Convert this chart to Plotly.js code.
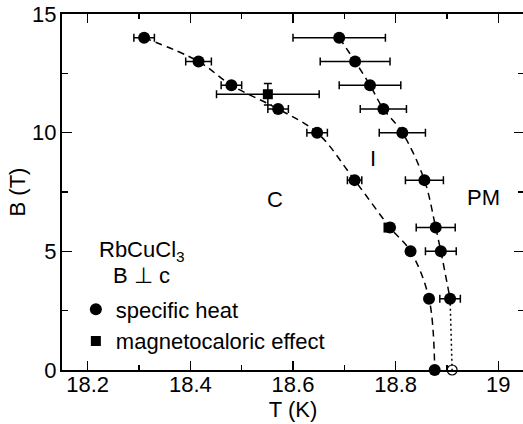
<!DOCTYPE html>
<html><head><meta charset="utf-8">
<script src="https://cdn.plot.ly/plotly-3.0.1.min.js"></script>
<style>html,body{margin:0;padding:0;overflow:hidden;background:#fff}</style>
</head><body><div id="chart" style="width:530px;height:424px"></div>
<script>
// C - I transition (specific heat)
const leftB   = [14, 13, 12, 11, 10, 8, 6, 5, 3, 0];
const leftT   = [18.31, 18.416, 18.48, 18.571, 18.647, 18.72, 18.789, 18.829, 18.865, 18.876];
const leftErr = [0.02, 0.025, 0.02, 0.02, 0.02, 0.014, 0, 0, 0, 0];
// I - PM transition (specific heat)
const rightB   = [14, 13, 12, 11, 10, 8, 6, 5, 3];
const rightT   = [18.69, 18.721, 18.75, 18.776, 18.813, 18.856, 18.878, 18.888, 18.906];
const rightErr = [0.09, 0.068, 0.06, 0.045, 0.045, 0.037, 0.038, 0.03, 0.02];
// zero-field extrapolated point
const zeroT = [18.91];
const zeroB = [0];
// magnetocaloric effect
const mceT = [18.551, 18.786];
const mceB = [11.62, 6];
const mceErrT = [0.1, 0];
const mceErrB = [0.45, 0];
// ticks
const xTickVals = [18.2, 18.4, 18.6, 18.8, 19.0];
const xTickText = ['18.2', '18.4', '18.6', '18.8', '19'];
const yTickVals = [0, 5, 10, 15];
const yTickText = ['0', '5', '10', '15'];

const FONT = '"Liberation Sans", Arial, Helvetica, sans-serif';
const dashLine = {color: 'black', width: 1.5, dash: '7px,5px', shape: 'spline'};
const errStyle = {color: 'black', thickness: 1.5, width: 4};

const traces = [
  {x: leftT, y: leftB, mode: 'lines', line: dashLine, showlegend: false, hoverinfo: 'skip'},
  {x: rightT, y: rightB, mode: 'lines', line: dashLine, showlegend: false, hoverinfo: 'skip'},
  {x: [rightT[rightT.length - 1], zeroT[0]], y: [rightB[rightB.length - 1], zeroB[0]], mode: 'lines',
   line: {color: 'black', width: 1.5, dash: '2px,3px'}, showlegend: false, hoverinfo: 'skip'},
  {x: leftT, y: leftB, mode: 'markers', name: 'specific heat',
   marker: {symbol: 'circle', size: 12, color: 'black'},
   error_x: Object.assign({type: 'data', array: leftErr, visible: true}, errStyle), cliponaxis: false},
  {x: rightT, y: rightB, mode: 'markers', showlegend: false,
   marker: {symbol: 'circle', size: 12, color: 'black'},
   error_x: Object.assign({type: 'data', array: rightErr, visible: true}, errStyle), cliponaxis: false},
  {x: zeroT, y: zeroB, mode: 'markers', showlegend: false,
   marker: {symbol: 'circle-open', size: 10, color: 'black', line: {width: 1.2}}, cliponaxis: false},
  {x: mceT, y: mceB, mode: 'markers', name: 'magnetocaloric effect',
   marker: {symbol: 'square', size: 10, color: 'black'},
   error_x: Object.assign({type: 'data', array: mceErrT, visible: true}, errStyle),
   error_y: Object.assign({type: 'data', array: mceErrB, visible: true}, errStyle), cliponaxis: false}
];

const axisCommon = {
  showline: true, linewidth: 2, linecolor: 'black', mirror: 'ticks',
  ticks: 'inside', tickwidth: 1.5, tickcolor: 'black',
  showgrid: false, zeroline: false, tickfont: {size: 22}
};

const layout = {
  width: 530, height: 424,
  margin: {l: 62, r: 6, t: 14, b: 54},
  paper_bgcolor: 'white', plot_bgcolor: 'white',
  font: {family: FONT, size: 21, color: 'black'},
  showlegend: true,
  legend: {x: 0.03, y: 0.229, xanchor: 'left', yanchor: 'top', font: {size: 22},
           bgcolor: 'rgba(0,0,0,0)', borderwidth: 0},
  xaxis: Object.assign({}, axisCommon, {
    range: [18.15, 19.05], tickmode: 'array', tickvals: xTickVals, ticktext: xTickText, ticklen: 9,
    ticklabelstandoff: -6,
    minor: {tickmode: 'linear', tick0: 18.1, dtick: 0.1, ticks: 'inside', ticklen: 5, tickwidth: 1.5, tickcolor: 'black', showgrid: false},
    title: {text: 'T (K)', font: {size: 22}, standoff: 0}
  }),
  yaxis: Object.assign({}, axisCommon, {
    range: [0, 15], tickmode: 'array', tickvals: yTickVals, ticktext: yTickText, ticklen: 10,
    ticklabelstandoff: -1,
    minor: {tickmode: 'linear', tick0: 0, dtick: 2.5, ticks: 'inside', ticklen: 6, tickwidth: 1.5, tickcolor: 'black', showgrid: false},
    title: {text: 'B (T)', font: {size: 22}, standoff: 0}
  }),
  annotations: [
    {x: 18.565, y: 7.2, text: 'C', showarrow: false, font: {size: 22}},
    {x: 18.756, y: 8.9, text: 'I', showarrow: false, font: {size: 22}},
    {x: 18.971, y: 7.25, text: 'PM', showarrow: false, font: {size: 22}},
    {x: 18.219, y: 5.7, text: 'RbCuCl<sub>3</sub>', showarrow: false, xanchor: 'left', yanchor: 'top', font: {size: 22}},
    {x: 18.246, y: 4.0, text: 'B \u22A5 c', showarrow: false, xanchor: 'left', font: {size: 22}}
  ]
};

Plotly.newPlot('chart', traces, layout, {staticPlot: true, displayModeBar: false});
</script>
</body></html>
